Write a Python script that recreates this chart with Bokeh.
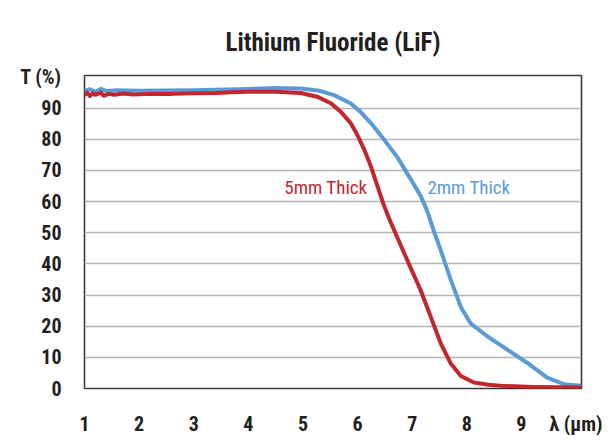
from bokeh.plotting import figure
from bokeh.models import FixedTicker, Label, Range1d
from bokeh.embed import file_html
from bokeh.resources import INLINE

# wavelength (um) and transmission (%)
lam_5mm = [1.0, 1.05, 1.1, 1.15, 1.2, 1.3, 1.35, 1.45, 1.55, 1.7, 1.9, 2.2, 2.6, 3.0, 3.4, 3.7,
           4.0, 4.5, 4.96, 5.26, 5.51, 5.69, 5.87, 5.99, 6.12, 6.24, 6.36, 6.48, 6.60, 6.79,
           6.97, 7.15, 7.34, 7.52, 7.70, 7.89, 8.13, 8.40, 8.62, 9.22, 9.7, 10.1]
t_5mm = [94.2, 95.0, 93.9, 94.8, 94.3, 95.0, 94.0, 94.6, 94.3, 94.7, 94.4, 94.6, 94.6, 94.8, 94.9, 95.1,
         95.3, 95.3, 94.9, 93.7, 91.6, 88.9, 85.3, 81.6, 76.8, 71.5, 65.2, 58.9, 53.6, 46.0,
         38.8, 31.8, 23.0, 14.6, 8.2, 4.0, 1.9, 1.2, 0.85, 0.5, 0.4, 0.3]

lam_2mm = [1.0, 1.1, 1.2, 1.3, 1.4, 1.6, 2.0, 3.0, 4.0, 4.5, 4.96, 5.3, 5.57, 5.87, 6.05, 6.24,
           6.48, 6.73, 6.97, 7.15, 7.28, 7.40, 7.52, 7.70, 7.89, 8.07, 8.38, 8.74, 9.11,
           9.47, 9.78, 10.1]
t_2mm = [95.5, 96.1, 95.3, 96.2, 95.5, 95.8, 95.6, 95.8, 96.2, 96.5, 96.3, 95.6, 94.2, 91.6, 88.9, 85.3,
         80.0, 74.2, 67.3, 62.0, 56.8, 50.4, 44.5, 35.2, 26.2, 20.9, 16.7, 12.5, 8.2,
         3.5, 1.4, 0.85]

x_ticks = [1, 2, 3, 4, 5, 6, 7, 8, 9, 10]
y_ticks = [0, 10, 20, 30, 40, 50, 60, 70, 80, 90, 100]
grid_ticks = [10, 20, 30, 40, 50, 60, 70, 80, 90]
x_axis_label = "λ (μm)"
y_axis_label = "T (%)"
title_text = "Lithium Fluoride (LiF)"
label_5mm = "5mm Thick"
label_2mm = "2mm Thick"

RED = "#c1272d"
BLUE = "#5b9bd5"
TXT = "#231f20"
FONT = "Roboto Condensed, Roboto"

p = figure(width=605, height=438, output_backend="svg", toolbar_location=None,
           x_range=Range1d(1, 10.1), y_range=Range1d(0, 100.5),
           min_border_left=84, min_border_right=24, min_border_top=75, min_border_bottom=45)

p.background_fill_color = "white"
p.border_fill_color = "white"
p.outline_line_color = "#3a3a3a"
p.outline_line_width = 1.6

p.title.text = title_text
p.title.align = "center"
p.title.text_font = FONT
p.title.text_font_style = "bold"
p.title.text_font_size = "25px"
p.title.text_color = TXT
p.title.standoff = 37

p.line(lam_2mm, t_2mm, line_color=BLUE, line_width=4, line_join="round")
p.line(lam_5mm, t_5mm, line_color=RED, line_width=4, line_join="round")

p.xgrid.visible = False
p.ygrid.ticker = FixedTicker(ticks=grid_ticks)
p.ygrid.grid_line_color = "#b5b5b5"
p.ygrid.grid_line_width = 1.5

for ax in (p.xaxis[0], p.yaxis[0]):
    ax.axis_line_color = None
    ax.major_tick_line_color = None
    ax.minor_tick_line_color = None
    ax.major_label_text_font = FONT
    ax.major_label_text_font_style = "bold"
    ax.major_label_text_font_size = "20px"
    ax.major_label_text_color = TXT

p.xaxis.ticker = FixedTicker(ticks=x_ticks)
p.xaxis.major_label_overrides = {10: x_axis_label}
p.xaxis.major_label_standoff = 17
p.yaxis.ticker = FixedTicker(ticks=y_ticks)
p.yaxis.major_label_overrides = {100: y_axis_label}
p.yaxis.major_label_standoff = 17

p.add_layout(Label(x=5.42, y=64.6, text=label_5mm, text_align="center", text_baseline="middle",
                   text_font=FONT, text_font_size="19px", text_color=RED))
p.add_layout(Label(x=8.04, y=64.6, text=label_2mm, text_align="center", text_baseline="middle",
                   text_font=FONT, text_font_size="19px", text_color=BLUE))

open("out.html", "w").write(file_html(p, INLINE))
